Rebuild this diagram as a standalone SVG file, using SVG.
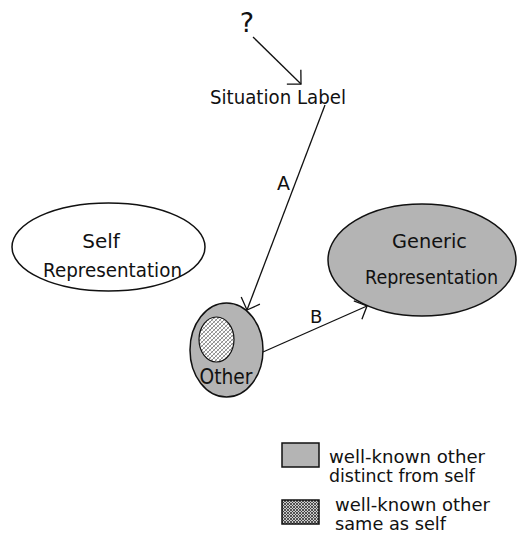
<svg xmlns="http://www.w3.org/2000/svg" width="517" height="537" viewBox="0 0 517 537">
<style>
text{font-family:"DejaVu Sans","Liberation Sans",sans-serif;fill:#111}
.node{stroke:#111;stroke-width:1.5}
.gray{fill:#b4b4b4}
.white{fill:#fff}
.conn line{stroke:#111;stroke-width:1.3;fill:none}
.conn{marker-end:url(#arr)}
.leg{font-size:17px}
</style>
<defs>
<marker id="arr" markerUnits="userSpaceOnUse" markerWidth="30" markerHeight="30" refX="0" refY="0" viewBox="-15 -15 30 30" orient="auto" overflow="visible">
<path d="M-10,-10 L0,0 L-10,10" fill="none" stroke="#111" stroke-width="1.3"/>
</marker>
<pattern id="hatch" patternUnits="userSpaceOnUse" width="4" height="4">
<rect width="4" height="4" fill="#fff"/>
<path d="M0,4 L4,0 M-1,1 L1,-1 M3,5 L5,3" stroke="#555" stroke-width="0.7"/>
<path d="M0,0 L4,4 M-1,3 L1,5 M3,-1 L5,1" stroke="#777" stroke-width="0.5"/>
</pattern>
<pattern id="hatch2" patternUnits="userSpaceOnUse" width="3" height="3">
<rect width="3" height="3" fill="#ccc"/>
<path d="M0,3 L3,0 M0,0 L3,3" stroke="#333" stroke-width="0.8"/>
</pattern>
</defs>

<g id="question">
<text x="247" y="32" font-size="27" text-anchor="middle">?</text>
</g>

<g id="situation-label">
<text x="210" y="104" font-size="20" textLength="136" lengthAdjust="spacingAndGlyphs">Situation Label</text>
</g>

<g id="self-representation">
<ellipse class="node white" cx="108.5" cy="247" rx="96.5" ry="44"/>
<text x="101" y="248" font-size="20" text-anchor="middle">Self</text>
<text x="112.5" y="277" font-size="20" text-anchor="middle" textLength="139" lengthAdjust="spacingAndGlyphs">Representation</text>
</g>

<g id="generic-representation">
<ellipse class="node gray" cx="422" cy="260" rx="94" ry="56"/>
<text x="429.5" y="248" font-size="20" text-anchor="middle" textLength="75" lengthAdjust="spacingAndGlyphs">Generic</text>
<text x="431.5" y="284" font-size="20" text-anchor="middle" textLength="133" lengthAdjust="spacingAndGlyphs">Representation</text>
</g>

<g id="other">
<ellipse class="node gray" cx="226.5" cy="350" rx="36.5" ry="47"/>
<ellipse cx="216.5" cy="339.5" rx="17.5" ry="22.5" fill="url(#hatch)" stroke="#111" stroke-width="1.2"/>
<text x="226" y="384" font-size="21" text-anchor="middle" textLength="53" lengthAdjust="spacingAndGlyphs">Other</text>
</g>

<g id="connectors">
<g class="conn"><line x1="253" y1="37" x2="301" y2="84"/></g>
<g class="conn"><line x1="325" y1="105" x2="247" y2="310"/></g>
<g class="conn"><line x1="263" y1="352" x2="367" y2="306"/></g>
<text x="277" y="190" font-size="19">A</text>
<text x="310" y="323" font-size="18">B</text>
</g>

<g id="legend">
<rect x="282" y="443" width="37" height="24" class="gray" stroke="#111" stroke-width="1.5"/>
<text class="leg" x="329" y="463" textLength="156" lengthAdjust="spacingAndGlyphs">well-known other</text>
<text class="leg" x="329" y="482" textLength="146" lengthAdjust="spacingAndGlyphs">distinct from self</text>
<rect x="282" y="500" width="37" height="24" fill="url(#hatch2)" stroke="#111" stroke-width="1.5"/>
<text class="leg" x="335" y="511" textLength="155" lengthAdjust="spacingAndGlyphs">well-known other</text>
<text class="leg" x="335" y="530" textLength="111" lengthAdjust="spacingAndGlyphs">same as self</text>
</g>
</svg>
